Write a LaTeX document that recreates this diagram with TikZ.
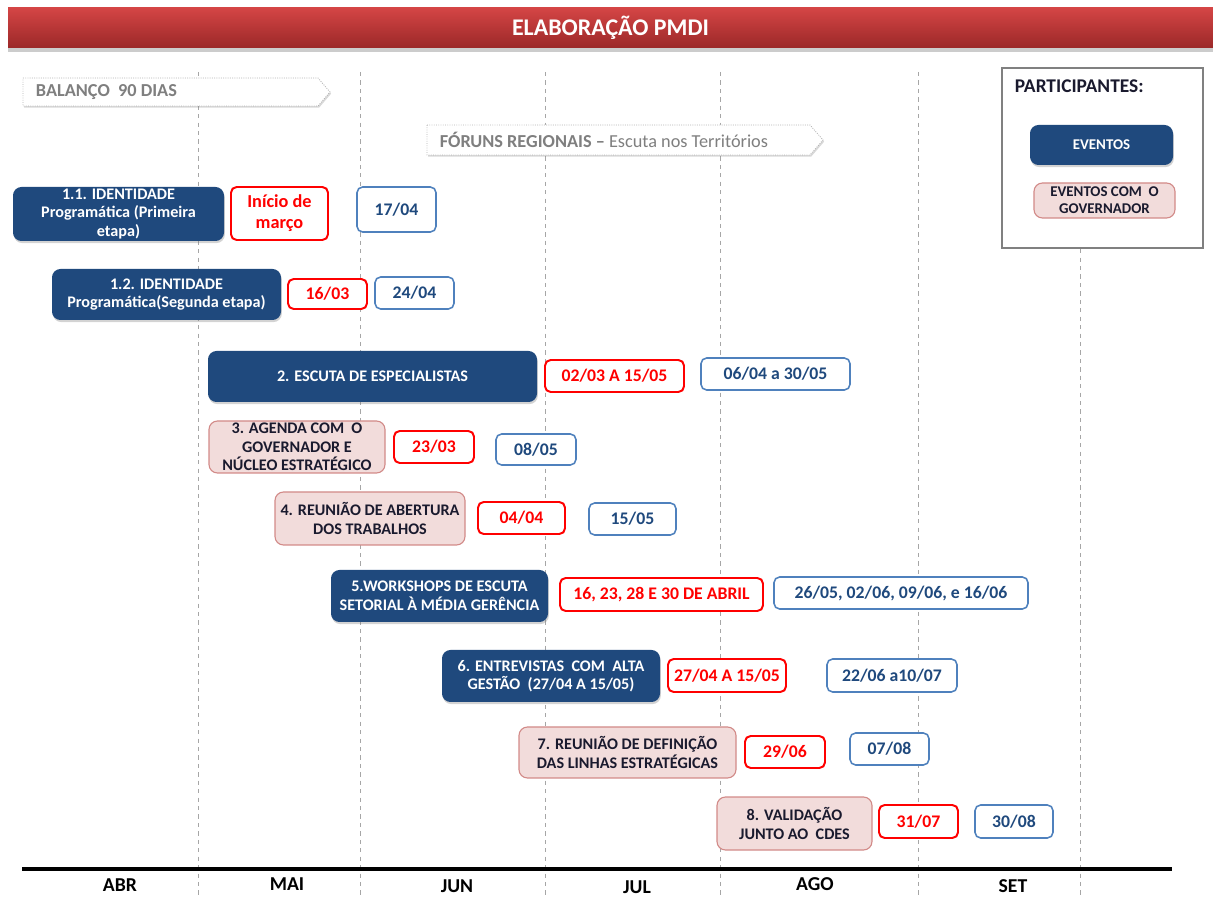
\documentclass[tikz,border=0pt]{standalone}
\usepackage{fontspec}
\setmainfont{Carlito}
\usepackage{xcolor}
\definecolor{evento}{HTML}{1F497D}
\definecolor{govfill}{HTML}{F2DCDB}
\definecolor{govline}{HTML}{D28A88}
\definecolor{datablue}{HTML}{4F81BD}
\definecolor{datared}{HTML}{FF0000}
\definecolor{titletop}{HTML}{D44545}
\definecolor{titlebot}{HTML}{9B2828}
\definecolor{bannertext}{HTML}{7F7F7F}
\definecolor{darktext}{HTML}{1A1A2E}
\usepackage{tikz}
\usetikzlibrary{shadows}

\tikzset{
  eventbox/.style={fill=evento, rounded corners=6pt, text=white, align=center, inner sep=0pt,
    font=\bfseries\fontsize{11.5}{13.2}\selectfont,
    drop shadow={opacity=0.35, shadow xshift=0.6pt, shadow yshift=-1.5pt}},
  govbox/.style={fill=govfill, draw=govline, line width=0.8pt, rounded corners=6pt, text=darktext,
    align=center, inner sep=0pt, font=\bfseries\fontsize{11.5}{13.2}\selectfont},
  redbox/.style={draw=datared, line width=1.4pt, rounded corners=4pt, fill=white, text=datared,
    align=center, inner sep=0pt, font=\bfseries\fontsize{12.6}{14}\selectfont},
  bluebox/.style={draw=datablue, line width=1.1pt, rounded corners=4pt, fill=white, text=evento,
    align=center, inner sep=0pt, font=\bfseries\fontsize{12.6}{14}\selectfont},
  banner/.style={fill=white, draw=gray!60, densely dotted, line width=0.6pt,
    drop shadow={opacity=0.3, shadow xshift=0.8pt, shadow yshift=-1.2pt}}
}

\begin{document}
\begin{tikzpicture}[x=0.025cm, y=-0.025cm]
  \useasboundingbox (0,0) rectangle (1213,898);

  % grade dos meses
  \foreach \xpos in {198,360,545,720,918,1080}
    \draw[gray!70, dashed, line width=0.5pt] (\xpos,72) -- (\xpos,898);

  % titulo
  \node[top color=titletop, bottom color=titlebot, minimum width=1205*0.025cm, minimum height=40*0.025cm,
    inner sep=0pt, text=white, font=\bfseries\fontsize{17}{19}\selectfont,
    drop shadow={opacity=0.4, shadow xshift=0pt, shadow yshift=-2.5pt}] (titulo) at (610.5,28) {ELABORAÇÃO PMDI};

  % faixas
  \path[banner] (23,78) -- (318,78) -- (330,92) -- (318,106) -- (23,106) -- cycle;
  \node[anchor=west, text=bannertext, font=\bfseries\fontsize{13}{14}\selectfont] (balanco) at (31,92) {BALANÇO\ \ 90 DIAS};
  \path[banner] (427,125) -- (810,125) -- (823,140) -- (810,155) -- (427,155) -- cycle;
  \node[anchor=west, text=bannertext, font=\fontsize{13}{14}\selectfont] (foruns) at (435,140)
    {\textbf{FÓRUNS REGIONAIS –} Escuta nos Territórios};

  % eventos
  \foreach \nm/\cx/\cy/\w/\h/\txt in {
      t11/118.5/214/211/54/{1.1. IDENTIDADE\\Programática (Primeira\\etapa)},
      t12/166.5/294.5/229/51/{1.2. IDENTIDADE\\Programática(Segunda etapa)},
      t2/372.5/376.5/329/51/{2. ESCUTA DE ESPECIALISTAS},
      t5/439.5/596/217/52/{5.WORKSHOPS DE ESCUTA\\SETORIAL À MÉDIA GERÊNCIA},
      t6/551/676/218/52/{6. ENTREVISTAS\ \ COM\ \ ALTA\\GESTÃO\ \ (27/04 A 15/05)}} {
    \node[eventbox, minimum width=\w*0.025cm, minimum height=\h*0.025cm] (\nm) at (\cx,\cy) {\txt};
  }

  % eventos com o governador
  \foreach \nm/\cx/\cy/\w/\h/\txt in {
      t3/297/447/176/52/{3. AGENDA COM\ \ O\\GOVERNADOR E\\NÚCLEO ESTRATÉGICO},
      t4/370/518.5/190/53/{4. REUNIÃO DE ABERTURA\\DOS TRABALHOS},
      t7/627.5/752.5/217/51/{7. REUNIÃO DE DEFINIÇÃO\\DAS LINHAS ESTRATÉGICAS},
      t8/794.5/823.5/155/53/{8. VALIDAÇÃO\\JUNTO AO\ \ CDES}} {
    \node[govbox, minimum width=\w*0.025cm, minimum height=\h*0.025cm] (\nm) at (\cx,\cy) {\txt};
  }

  % datas previstas
  \node[redbox, minimum width=97*0.025cm, minimum height=53*0.025cm, font=\bfseries\fontsize{13}{15}\selectfont]
    (r11) at (279.5,213.5) {Início de\\março};
  \foreach \nm/\cx/\cy/\w/\h/\txt in {
      r12/327.5/294/79/30/{16/03},
      r2/614.5/376/139/32/{02/03 A 15/05},
      r3/434/447/80/32/{23/03},
      r4/521.5/518/87/32/{04/04},
      r5/661.5/594.5/203/33/{16, 23, 28 E 30 DE ABRIL},
      r6/727/675.5/118/33/{27/04 A 15/05},
      r7/785/752/80/32/{29/06},
      r8/918.5/821.5/79/33/{31/07}} {
    \node[redbox, minimum width=\w*0.025cm, minimum height=\h*0.025cm] (\nm) at (\cx,\cy) {\txt};
  }

  % datas realizadas
  \foreach \nm/\cx/\cy/\w/\h/\txt in {
      b11/396.5/209.5/79/45/{17/04},
      b12/414.5/293/79/32/{24/04},
      b2/775.5/374/149/32/{06/04 a 30/05},
      b3/536/449.5/80/31/{08/05},
      b4/632.5/519/87/32/{15/05},
      b5/901/593/254/32/{26/05, 02/06, 09/06, e 16/06},
      b6/892/675.5/130/33/{22/06 a10/07},
      b7/889.5/749/79/32/{07/08},
      b8/1014/821.5/78/33/{30/08}} {
    \node[bluebox, minimum width=\w*0.025cm, minimum height=\h*0.025cm] (\nm) at (\cx,\cy) {\txt};
  }

  % legenda
  \node[draw=gray, line width=0.8pt, fill=white, minimum width=201*0.025cm, minimum height=180*0.025cm]
    (legenda) at (1102.5,158) {};
  \node[anchor=west, text=darktext, font=\bfseries\fontsize{13.8}{15}\selectfont] (participantes) at (1010,86) {PARTICIPANTES:};
  \node[eventbox, minimum width=143*0.025cm, minimum height=40*0.025cm, font=\bfseries\fontsize{10.6}{12}\selectfont]
    (legevento) at (1101.5,145) {EVENTOS};
  \node[govbox, minimum width=141*0.025cm, minimum height=35*0.025cm, font=\bfseries\fontsize{10.6}{12}\selectfont]
    (leggov) at (1104.5,200.5) {EVENTOS COM\ \ O\\GOVERNADOR};

  % eixo dos meses
  \draw[line width=2.6pt] (22,869) -- (1172,869);
  \foreach \mes/\xpos/\ypos in {ABR/120/885, MAI/287/884, JUN/457/886, JUL/637/887, AGO/815/884, SET/1013/886}
    \node[font=\bfseries\fontsize{14}{15}\selectfont] (m\mes) at (\xpos,\ypos) {\mes};
\end{tikzpicture}
\end{document}
